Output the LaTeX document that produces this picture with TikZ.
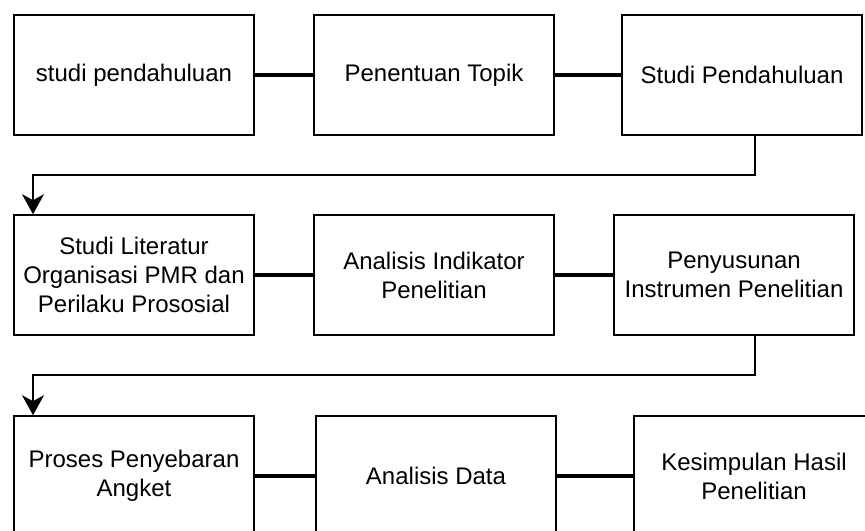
\documentclass[tikz,border=0pt]{standalone}
\usepackage{fontspec}
\setmainfont{Liberation Sans}
\usetikzlibrary{arrows.meta}

\begin{document}
\begin{tikzpicture}[x=0.5pt, y=0.5pt,
  kotak/.style={draw, line width=0.8pt, minimum width=120pt, minimum height=60pt,
    inner sep=0pt, align=center, font=\fontsize{12}{14.5}\selectfont},
  garis/.style={line width=1.6pt},
  alur/.style={line width=0.8pt, -{Stealth[length=10pt,width=11pt,inset=3pt]}}]

\useasboundingbox (0,0) rectangle (865,530);

% baris pertama
\node[kotak] (awal) at (134,455) {studi pendahuluan};
\node[kotak] (topik) at (434,455) {Penentuan Topik};
\node[kotak] (pendahuluan) at (742,455) {Studi Pendahuluan};

\draw[garis] (awal) -- (topik);
\draw[garis] (topik) -- (pendahuluan);

% baris kedua
\node[kotak] (literatur) at (134,255) {Studi Literatur\\Organisasi PMR dan\\Perilaku Prososial};
\node[kotak] (indikator) at (434,255) {Analisis Indikator\\Penelitian};
\node[kotak] (instrumen) at (734,255) {Penyusunan\\Instrumen Penelitian};

\draw[garis] (literatur) -- (indikator);
\draw[garis] (indikator) -- (instrumen);

% baris ketiga
\node[kotak] (angket) at (134,54) {Proses Penyebaran\\Angket};
\node[kotak] (data) at (436,54) {Analisis Data};
\node[kotak] (simpulan) at (754,54) {Kesimpulan Hasil\\Penelitian};

\draw[garis] (angket) -- (data);
\draw[garis] (data) -- (simpulan);

% alur antar baris
\coordinate (turun) at (755,0);
\coordinate (kiri) at (33,0);
\coordinate (belok1) at (0,355);
\coordinate (belok2) at (0,155);

\draw[alur] (pendahuluan.south -| turun) -- (belok1 -| turun) -- (belok1 -| kiri) -- (literatur.north -| kiri);
\draw[alur] (instrumen.south -| turun) -- (belok2 -| turun) -- (belok2 -| kiri) -- (angket.north -| kiri);

\end{tikzpicture}
\end{document}
